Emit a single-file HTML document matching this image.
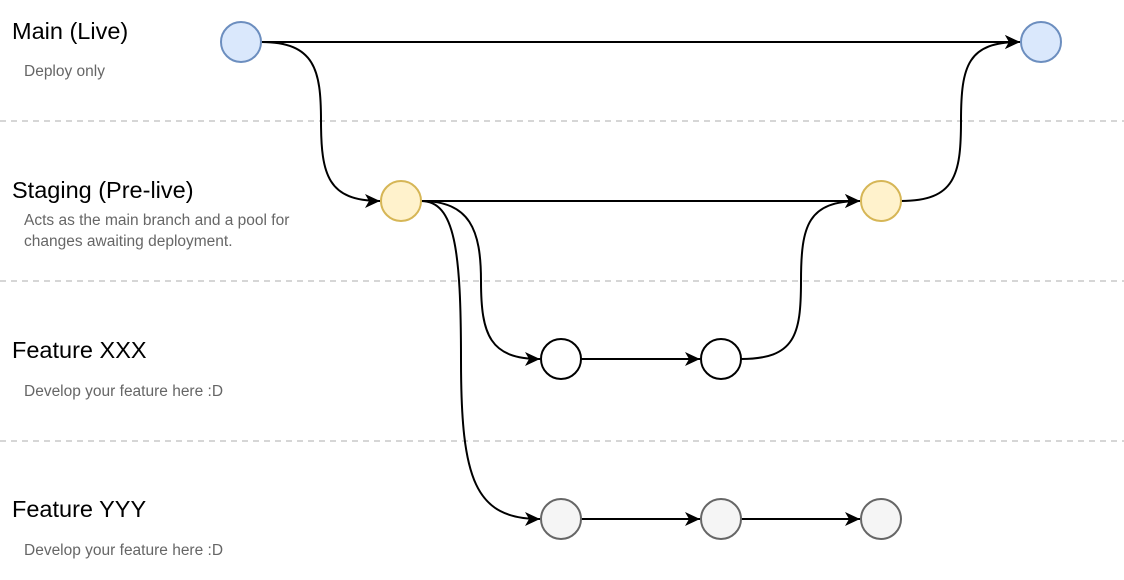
<!DOCTYPE html>
<html><head><meta charset="utf-8"><style>
html,body{margin:0;padding:0;background:#fff;}
svg{display:block;}
text{font-family:"Liberation Sans",Arial,sans-serif;}
.t{font-size:23.5px;fill:#000;}
.s{font-size:15.5px;fill:#666;}
.e{fill:none;stroke:#000;stroke-width:2;marker-end:url(#a);}
.d{stroke:#c8c8c8;stroke-width:1.5;stroke-dasharray:6 5;}
</style></head><body>
<svg width="1124" height="580" viewBox="0 0 1124 580" xmlns="http://www.w3.org/2000/svg">
<defs>
<marker id="a" markerWidth="18" markerHeight="18" refX="15" refY="7" orient="auto" markerUnits="userSpaceOnUse">
<path d="M0,0 L15,7 L0,14 L4,7 Z" fill="#000"/>
</marker>
</defs>
<line class="d" x1="0" y1="121" x2="1124" y2="121"/>
<line class="d" x1="0" y1="281" x2="1124" y2="281"/>
<line class="d" x1="0" y1="441" x2="1124" y2="441"/>

<text class="t" x="12" y="39">Main (Live)</text>
<text class="s" x="24" y="76">Deploy only</text>
<text class="t" x="12" y="198">Staging (Pre-live)</text>
<text class="s" x="24" y="225">Acts as the main branch and a pool for</text>
<text class="s" x="24" y="246">changes awaiting deployment.</text>
<text class="t" x="12" y="358">Feature XXX</text>
<text class="s" x="24" y="396">Develop your feature here :D</text>
<text class="t" x="12" y="517">Feature YYY</text>
<text class="s" x="24" y="555">Develop your feature here :D</text>

<path class="e" d="M261,42 L1020,42"/>
<path class="e" d="M261,42 C315,42 321,70 321,121 C321,175 328,201 380,201"/>
<path class="e" d="M421,201 L860,201"/>
<path class="e" d="M421,201 C470,201 481,230 481,281 C481,335 490,359 540,359"/>
<path class="e" d="M421,201 C455,201 461,250 461,360 C461,480 475,519 540,519"/>
<path class="e" d="M581,359 L700,359"/>
<path class="e" d="M741,359 C795,359 801,335 801,281 C801,225 808,201 860,201"/>
<path class="e" d="M901,201 C955,201 961,175 961,121 C961,65 968,42 1020,42"/>
<path class="e" d="M581,519 L700,519"/>
<path class="e" d="M741,519 L860,519"/>

<circle cx="241" cy="42" r="20" fill="#dae8fc" stroke="#6c8ebf" stroke-width="2"/>
<circle cx="1041" cy="42" r="20" fill="#dae8fc" stroke="#6c8ebf" stroke-width="2"/>
<circle cx="401" cy="201" r="20" fill="#fff2cc" stroke="#d6b656" stroke-width="2"/>
<circle cx="881" cy="201" r="20" fill="#fff2cc" stroke="#d6b656" stroke-width="2"/>
<circle cx="561" cy="359" r="20" fill="#fff" stroke="#000" stroke-width="2"/>
<circle cx="721" cy="359" r="20" fill="#fff" stroke="#000" stroke-width="2"/>
<circle cx="561" cy="519" r="20" fill="#f5f5f5" stroke="#666" stroke-width="2"/>
<circle cx="721" cy="519" r="20" fill="#f5f5f5" stroke="#666" stroke-width="2"/>
<circle cx="881" cy="519" r="20" fill="#f5f5f5" stroke="#666" stroke-width="2"/>
</svg>
</body></html>
